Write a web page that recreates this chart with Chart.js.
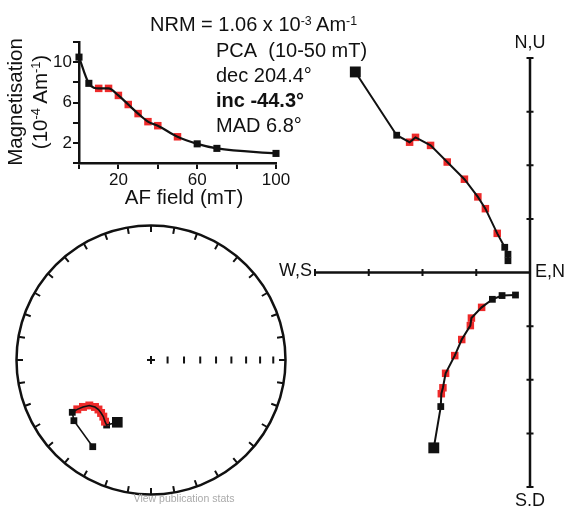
<!DOCTYPE html>
<html>
<head>
<meta charset="utf-8">
<script src="https://cdn.jsdelivr.net/npm/chart.js@4.4.1/dist/chart.umd.min.js"></script>
<style>
    html, body { margin: 0; padding: 0; background: #fff; }
    #wrap {
        position: relative; width: 568px; height: 506px; overflow: hidden;
        font-family: "Liberation Sans", Arial, sans-serif; color: #111;
    }
    canvas { position: absolute; }
    .lbl { position: absolute; white-space: nowrap; line-height: 1; font-size: 20px; }
    .rot { transform: translate(-50%, -50%) rotate(-90deg); }
    sup { font-size: 62%; vertical-align: 0.5em; line-height: 0; }
</style>
</head>
<body>
<div id="wrap">
    <canvas id="decay" width="300" height="200" style="left:0;top:0"></canvas>
    <canvas id="zijd" width="260" height="460" style="left:300px;top:40px"></canvas>
    <canvas id="stereo" width="300" height="291" style="left:0;top:215px"></canvas>

    <div class="lbl" style="left:150px;top:14px">NRM = 1.06 x 10<sup>-3</sup> Am<sup>-1</sup></div>
    <div class="lbl" style="left:216px;top:40px">PCA&nbsp; (10-50 mT)</div>
    <div class="lbl" style="left:216px;top:65px">dec 204.4°</div>
    <div class="lbl" style="left:216px;top:90px;font-weight:bold">inc -44.3°</div>
    <div class="lbl" style="left:216px;top:115px">MAD 6.8°</div>

    <div class="lbl rot" style="left:15px;top:102px;font-size:20.5px">Magnetisation</div>
    <div class="lbl rot" style="left:40px;top:102px;font-size:20.5px">(10<sup>-4</sup> Am<sup>-1</sup>)</div>
    <div class="lbl" style="left:184px;top:187px;font-size:20.5px;transform:translateX(-50%)">AF field (mT)</div>

    <div class="lbl" style="left:530px;top:33px;font-size:18px;transform:translateX(-50%)">N,U</div>
    <div class="lbl" style="left:535px;top:262px;font-size:18px">E,N</div>
    <div class="lbl" style="left:312px;top:261px;font-size:18px;transform:translateX(-100%)">W,S</div>
    <div class="lbl" style="left:530px;top:491px;font-size:18px;transform:translateX(-50%)">S,D</div>

    <div class="lbl" style="left:184px;top:493px;font-size:10.5px;color:#aaa;transform:translateX(-50%)">View publication stats</div>
</div>

<script>
// === DONNÉES ===
// AF demagnetisation steps (mT)
const afSteps = [0, 5, 10, 15, 20, 25, 30, 35, 40, 50, 60, 70, 100];
// intensity (10^-4 Am^-1)
const intensity = [10.5, 7.9, 7.4, 7.4, 6.7, 5.8, 4.9, 4.1, 3.7, 2.6, 1.9, 1.45, 0.95];
const decayXLabels = [20, 60, 100];
const decayYLabels = [2, 6, 10];
// PCA window (red steps)
const pcaFrom = 10;
const pcaTo = 50;

// Zijderveld diagram, one unit = one tick
const horizX = [-3.25, -2.48, -2.24, -2.13, -1.85, -1.54, -1.22, -0.97, -0.83, -0.61, -0.47, -0.41, -0.41];
const horizY = [3.74, 2.56, 2.43, 2.52, 2.37, 2.06, 1.74, 1.41, 1.19, 0.73, 0.47, 0.34, 0.22];
const vertX = [-1.79, -1.66, -1.65, -1.62, -1.57, -1.40, -1.27, -1.11, -1.09, -0.90, -0.70, -0.52, -0.27];
const vertY = [-3.27, -2.50, -2.26, -2.15, -1.88, -1.55, -1.25, -0.99, -0.85, -0.65, -0.50, -0.43, -0.42];

// stereonet directions
const decs = [208.4, 214.3, 216.7, 220.1, 223.3, 226.7, 230.0, 233.6, 235.4, 236.2, 236.4, 231.8, 213.9];
const incs = [-46.3, -41.1, -42.3, -44.2, -45.0, -45.4, -44.8, -42.5, -38.5, -34.4, -30.4, -27.9, -23.4];

const INK = '#111';
const RED = '#ee2a2a';

const isPca = i => afSteps[i] >= pcaFrom && afSteps[i] <= pcaTo;
const colors = afSteps.map((s, i) => isPca(i) ? RED : INK);

Chart.defaults.font.family = '"Liberation Sans", Arial, sans-serif';
Chart.defaults.color = INK;

const baseOpts = {
    responsive: false,
    animation: false,
    events: [],
    plugins: { legend: { display: false }, tooltip: { enabled: false } }
};

// points under, line on top
function pathDatasets(points, radii, lineWidth, tension) {
    return [
        {
            data: points, showLine: true, borderColor: INK, borderWidth: lineWidth,
            pointRadius: 0, tension: tension, cubicInterpolationMode: tension ? 'monotone' : 'default',
            order: 0, clip: false
        },
        {
            data: points, showLine: false, pointStyle: 'rect', pointRadius: radii,
            pointBackgroundColor: colors, pointBorderColor: colors, pointBorderWidth: 0,
            order: 1, clip: false
        }
    ];
}

// === COURBE DE DÉSAIMANTATION ===
const decayPts = afSteps.map((s, i) => ({ x: s, y: intensity[i] }));
const decayRadii = afSteps.map((s, i) => isPca(i) ? 5.3 : 5);

new Chart(document.getElementById('decay'), {
    type: 'scatter',
    data: { datasets: pathDatasets(decayPts, decayRadii, 2.2, 0.4) },
    options: {
        ...baseOpts,
        layout: { padding: { left: 0, top: 42, right: 24, bottom: 7 } },
        scales: {
            x: {
                type: 'linear', min: 0, max: 100,
                afterFit: s => { s.height = 30; },
                grid: { drawOnChartArea: false, tickLength: 6, color: INK, lineWidth: 2 },
                border: { color: INK, width: 2.5 },
                ticks: {
                    stepSize: 20, autoSkip: false, maxRotation: 0, padding: 1,
                    font: { size: 17 },
                    callback: v => decayXLabels.includes(v) ? String(v) : ''
                }
            },
            y: {
                min: 0, max: 12,
                afterFit: s => { s.width = 79; },
                grid: { drawOnChartArea: false, tickLength: 6, color: INK, lineWidth: 2 },
                border: { color: INK, width: 2.5 },
                ticks: {
                    stepSize: 2, autoSkip: false, padding: 1,
                    font: { size: 17 },
                    callback: v => decayYLabels.includes(v) ? String(v) : ''
                }
            }
        }
    }
});

// === DIAGRAMME DE ZIJDERVELD ===
const zijdAxes = {
    id: 'zijdAxes',
    beforeDatasetsDraw(chart) {
        const { ctx, scales: { x, y } } = chart;
        const x0 = x.getPixelForValue(0), y0 = y.getPixelForValue(0);
        ctx.save();
        ctx.strokeStyle = INK;
        ctx.lineWidth = 2.5;
        ctx.beginPath();
        ctx.moveTo(x.getPixelForValue(x.min), y0);
        ctx.lineTo(x0, y0);
        ctx.moveTo(x0, y.getPixelForValue(y.max));
        ctx.lineTo(x0, y.getPixelForValue(y.min));
        ctx.stroke();
        ctx.lineWidth = 2;
        ctx.beginPath();
        for (let v = x.min; v < 0; v++) {
            const px = x.getPixelForValue(v);
            ctx.moveTo(px, y0 - 3.5);
            ctx.lineTo(px, y0 + 3.5);
        }
        for (let v = y.min; v <= y.max; v++) {
            if (v === 0) continue;
            const py = y.getPixelForValue(v);
            ctx.moveTo(x0 - 3.5, py);
            ctx.lineTo(x0 + 3.5, py);
        }
        ctx.stroke();
        ctx.restore();
    }
};

const horizPts = horizX.map((v, i) => ({ x: v, y: horizY[i] }));
const vertPts = vertX.map((v, i) => ({ x: v, y: vertY[i] }));
const zRadii = afSteps.map((s, i) => i === 0 ? 7.7 : (isPca(i) ? 5.3 : 4.8));

new Chart(document.getElementById('zijd'), {
    type: 'scatter',
    data: {
        datasets: [
            ...pathDatasets(horizPts, zRadii, 2, 0),
            ...pathDatasets(vertPts, zRadii, 2, 0)
        ]
    },
    options: {
        ...baseOpts,
        layout: { padding: { left: 15, top: 18, right: 30, bottom: 13 } },
        scales: {
            x: { display: false, min: -4, max: 0 },
            y: { display: false, min: -4, max: 4 }
        }
    },
    plugins: [zijdAxes]
});

// === STÉRÉOGRAMME (aire égale) ===
const eqArea = inc => Math.SQRT2 * Math.sin((90 - Math.abs(inc)) / 2 * Math.PI / 180);

const stereoNet = {
    id: 'stereoNet',
    beforeDatasetsDraw(chart) {
        const { ctx, scales: { x, y } } = chart;
        const cx = x.getPixelForValue(0), cy = y.getPixelForValue(0);
        const R = x.getPixelForValue(1) - cx;
        ctx.save();
        ctx.strokeStyle = INK;
        ctx.lineWidth = 2.5;
        ctx.beginPath();
        ctx.arc(cx, cy, R, 0, Math.PI * 2);
        ctx.stroke();
        ctx.lineWidth = 2;
        ctx.beginPath();
        for (let a = 0; a < 360; a += 10) {
            const t = a * Math.PI / 180;
            ctx.moveTo(cx + R * Math.sin(t), cy - R * Math.cos(t));
            ctx.lineTo(cx + (R - 6.5) * Math.sin(t), cy - (R - 6.5) * Math.cos(t));
        }
        // centre cross
        ctx.moveTo(cx - 4, cy); ctx.lineTo(cx + 4, cy);
        ctx.moveTo(cx, cy - 4); ctx.lineTo(cx, cy + 4);
        // inclination ticks along east radius
        for (let inc = 80; inc >= 10; inc -= 10) {
            const px = cx + eqArea(inc) * R;
            ctx.moveTo(px, cy - 3.5); ctx.lineTo(px, cy + 3.5);
        }
        ctx.stroke();
        ctx.restore();
    }
};

const stereoPts = decs.map((d, i) => {
    const r = eqArea(incs[i]);
    const t = d * Math.PI / 180;
    return { x: r * Math.sin(t), y: r * Math.cos(t) };
});
const sRadii = afSteps.map((s, i) => i === 0 ? 7.5 : (isPca(i) ? 5.6 : 4.8));

new Chart(document.getElementById('stereo'), {
    type: 'scatter',
    data: { datasets: pathDatasets(stereoPts, sRadii, 1.6, 0) },
    options: {
        ...baseOpts,
        layout: { padding: { left: 16.5, top: 10.5, right: 14.5, bottom: 11.5 } },
        scales: {
            x: { display: false, min: -1, max: 1 },
            y: { display: false, min: -1, max: 1 }
        }
    },
    plugins: [stereoNet]
});
</script>
</body>
</html>
